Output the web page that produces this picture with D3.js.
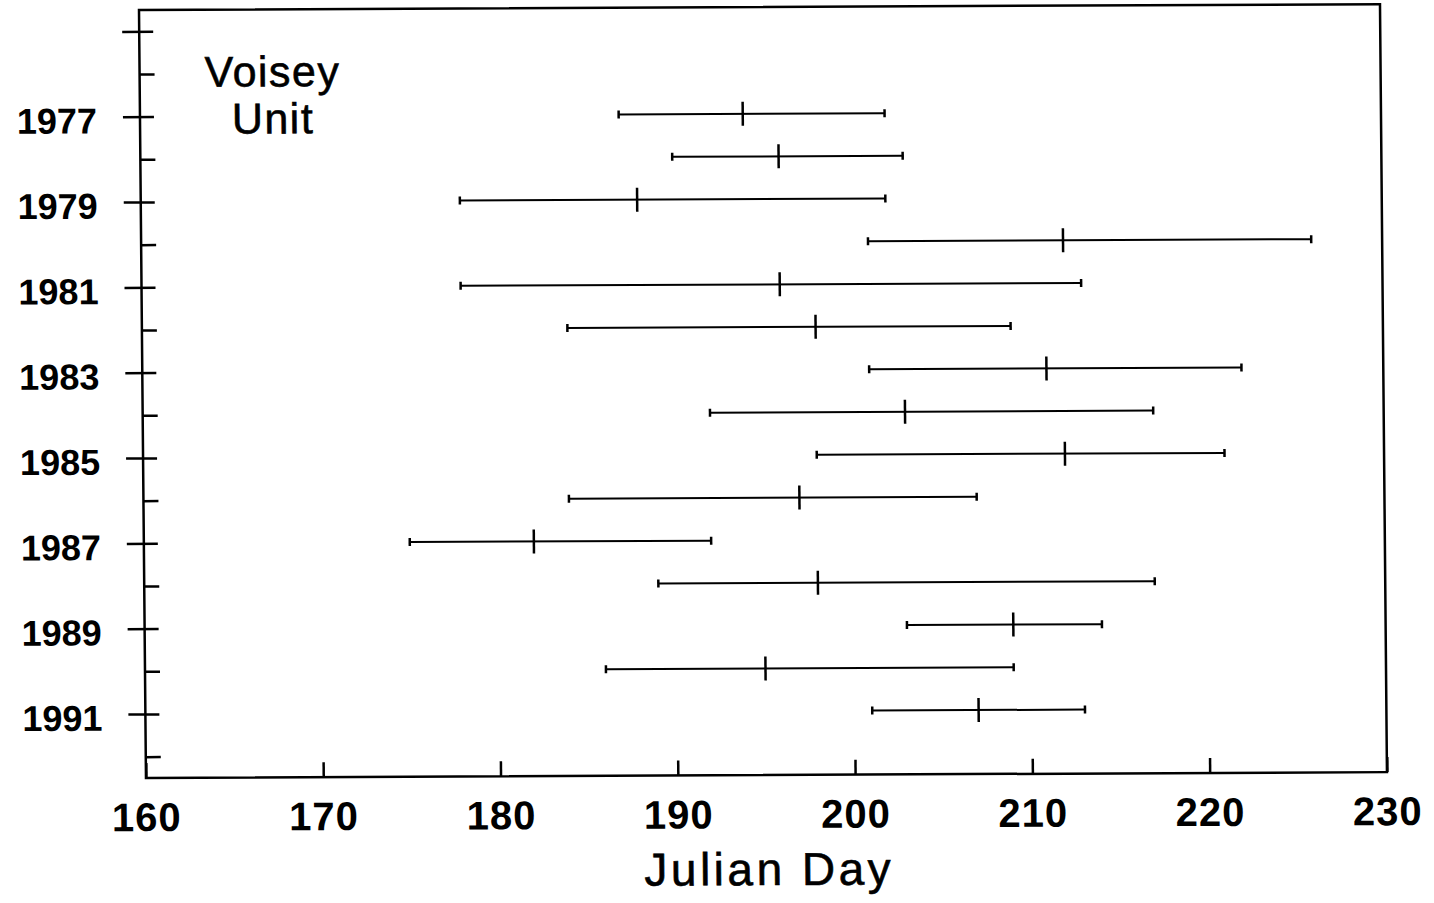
<!DOCTYPE html>
<html>
<head>
<meta charset="utf-8">
<script src="https://cdn.jsdelivr.net/npm/d3@7"></script>
<style>
  body { margin: 0; background: #fff; }
  svg { display: block; }
</style>
</head>
<body>
<script>
// one row per year: first day, median day, last day (Julian day)
var years    = [1977, 1978, 1979, 1980, 1981, 1982, 1983, 1984, 1985, 1986, 1987, 1988, 1989, 1990, 1991];
var firstDay = [ 187,  190,  178,  201,  178,  184,  201,  192,  198,  184,  175,  189,  203,  186,  201];
var midDay   = [ 194,  196,  188,  212,  196,  198,  211,  203,  212,  197,  182,  198,  209,  195,  207];
var lastDay  = [ 202,  203,  202,  226,  213,  209,  222,  217,  221,  207,  192,  217,  214,  209,  213];

var dayTicks   = [160, 170, 180, 190, 200, 210, 220, 230];
var yearTicks  = d3.range(1975, 1993);          // a tick every year
var yearLabels = [1977, 1979, 1981, 1983, 1985, 1987, 1989, 1991];

var titleLines = ["Voisey", "Unit"];
var xTitle = "Julian Day";

var width = 1434, height = 903,
    plotW = 1241, plotH = 768,
    font = '"Liberation Sans", Arial, Helvetica, sans-serif';

var svg = d3.select("body").append("svg")
  .attr("width", width)
  .attr("height", height);

// the source is a scanned page, slightly rotated and sheared
var g = svg.append("g")
  .attr("transform", "translate(139,10) rotate(-0.27) skewX(0.25)");

var x = d3.scaleLinear().domain([160, 230]).range([0, plotW]);
var y = d3.scaleLinear().domain([1974.5, 1992.5]).range([0, plotH]);

// frame
g.append("rect")
  .attr("x", 0).attr("y", 0)
  .attr("width", plotW).attr("height", plotH)
  .attr("fill", "none")
  .attr("stroke", "#000")
  .attr("stroke-width", 2.5);

// x axis: ticks pointing into the plot
var xAxis = g.append("g")
  .attr("transform", "translate(0," + plotH + ")")
  .call(d3.axisBottom(x).tickValues(dayTicks).tickSize(-15).tickFormat(d3.format("d")));
xAxis.select(".domain").remove();
xAxis.selectAll(".tick line").attr("stroke-width", 2.5);
xAxis.selectAll(".tick text")
  .attr("y", 53).attr("dy", 0)
  .attr("font-family", font)
  .attr("font-size", 40)
  .attr("font-weight", "bold")
  .attr("letter-spacing", 1);

// y axis: odd years cross the axis, even years only inside
var yAxis = g.append("g")
  .call(d3.axisLeft(y).tickValues(yearTicks).tickSize(0)
    .tickFormat(function(d) { return yearLabels.indexOf(d) >= 0 ? d : ""; }));
yAxis.select(".domain").remove();
yAxis.selectAll(".tick line")
  .attr("x1", function(d) { return d % 2 ? -17 : 0; })
  .attr("x2", function(d) { return d % 2 ? 14 : 15; })
  .attr("stroke-width", 2.5);
yAxis.selectAll(".tick text")
  .attr("x", -43).attr("dy", 16)
  .attr("font-family", font)
  .attr("font-size", 36)
  .attr("font-weight", "bold");

// ranges
var rows = g.append("g").selectAll("g")
  .data(years)
  .enter().append("g")
  .attr("stroke", "#000")
  .attr("stroke-width", 2);

rows.append("line")
  .attr("x1", function(d, i) { return x(firstDay[i]); })
  .attr("x2", function(d, i) { return x(lastDay[i]); })
  .attr("y1", function(d) { return y(d); })
  .attr("y2", function(d) { return y(d); });

// end caps
[firstDay, lastDay].forEach(function(arr) {
  rows.append("line")
    .attr("x1", function(d, i) { return x(arr[i]); })
    .attr("x2", function(d, i) { return x(arr[i]); })
    .attr("y1", function(d) { return y(d) - 4; })
    .attr("y2", function(d) { return y(d) + 4; })
    .attr("stroke-width", 2.5);
});

// median tick
rows.append("line")
  .attr("x1", function(d, i) { return x(midDay[i]); })
  .attr("x2", function(d, i) { return x(midDay[i]); })
  .attr("y1", function(d) { return y(d) - 12; })
  .attr("y2", function(d) { return y(d) + 12; })
  .attr("stroke-width", 2.5);

// label in the corner
g.append("text")
  .attr("font-family", font)
  .attr("font-size", 43)
  .attr("letter-spacing", 1.5)
  .attr("text-anchor", "middle")
  .attr("stroke", "#000")
  .attr("stroke-width", 0.6)
  .selectAll("tspan")
  .data(titleLines)
  .enter().append("tspan")
  .attr("x", 133)
  .attr("y", function(d, i) { return 77 + i * 47; })
  .text(function(d) { return d; });

// axis title
g.append("text")
  .attr("x", plotW / 2 + 2)
  .attr("y", 878)
  .attr("text-anchor", "middle")
  .attr("font-family", font)
  .attr("font-size", 46)
  .attr("letter-spacing", 3.5)
  .attr("stroke", "#000")
  .attr("stroke-width", 0.6)
  .text(xTitle);
</script>
</body>
</html>
